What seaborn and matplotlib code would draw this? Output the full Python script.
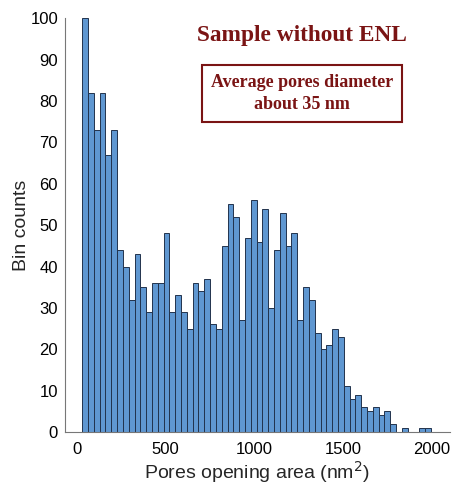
import numpy as np
import pandas as pd
import matplotlib
matplotlib.use('Agg')
import matplotlib.pyplot as plt
import seaborn as sns

# histogram counts (60 bins)
counts = [100, 82, 73, 82, 67, 73, 44, 40, 32, 43,
          35, 29, 36, 36, 48, 29, 33, 29, 25, 36,
          34, 37, 26, 25, 45, 55, 52, 27, 47, 56,
          46, 54, 30, 44, 53, 45, 48, 27, 35, 32,
          24, 20, 21, 25, 23, 11, 8, 9, 6, 5,
          6, 4, 5, 2, 0, 1, 0, 0, 1, 1]
bin_start = 32
bin_width = 32.7
x_ticks = [0, 500, 1000, 1500, 2000]
y_ticks = list(range(0, 101, 10))

title_text = 'Sample without ENL'
box_text = 'Average pores diameter\nabout 35 nm'

n_bins = len(counts)
df = pd.DataFrame({
    'area': [bin_start + (i + 0.5) * bin_width for i in range(n_bins)],
    'count': counts,
})

sns.set_style('white')
plt.rcParams['font.family'] = ['Liberation Sans', 'DejaVu Sans']

fig = plt.figure(figsize=(4.53, 4.91), dpi=100)
ax = fig.add_axes([0.1435, 0.1202, 0.8495, 0.8425])

sns.histplot(data=df, x='area', weights='count',
             binwidth=bin_width, binrange=(bin_start, bin_start + n_bins * bin_width),
             color='#5f97d1', edgecolor='#22334d', linewidth=0.7, alpha=1.0, ax=ax)

ax.set_xlim(-65, 2100)
ax.set_ylim(0, 100)
ax.set_xticks(x_ticks)
ax.set_yticks(y_ticks)
ax.tick_params(direction='in', length=4, width=0.8, color='#777777',
               labelsize=12, labelcolor='black')
ax.tick_params(axis='x', pad=7)
ax.tick_params(axis='y', pad=5)
for s in ['top', 'right']:
    ax.spines[s].set_visible(False)
for s in ['left', 'bottom']:
    ax.spines[s].set_color('#777777')
    ax.spines[s].set_linewidth(0.8)

ax.set_xlabel('Pores opening area (nm$^2$)', fontsize=14, labelpad=2)
ax.set_ylabel('Bin counts', fontsize=14, labelpad=0)

dark_red = '#7a1414'
fig.text(0.667, 0.928, title_text, ha='center', va='center', fontsize=16.8,
         fontweight='bold', color=dark_red, family=['Liberation Serif'])
fig.text(0.667, 0.810, box_text, ha='center', va='center', fontsize=13,
         fontweight='bold', color=dark_red, family=['Liberation Serif'],
         linespacing=1.4,
         bbox=dict(boxstyle='square,pad=0.5', facecolor='white',
                   edgecolor=dark_red, linewidth=1.5))

fig.savefig('out.png', dpi=100)
